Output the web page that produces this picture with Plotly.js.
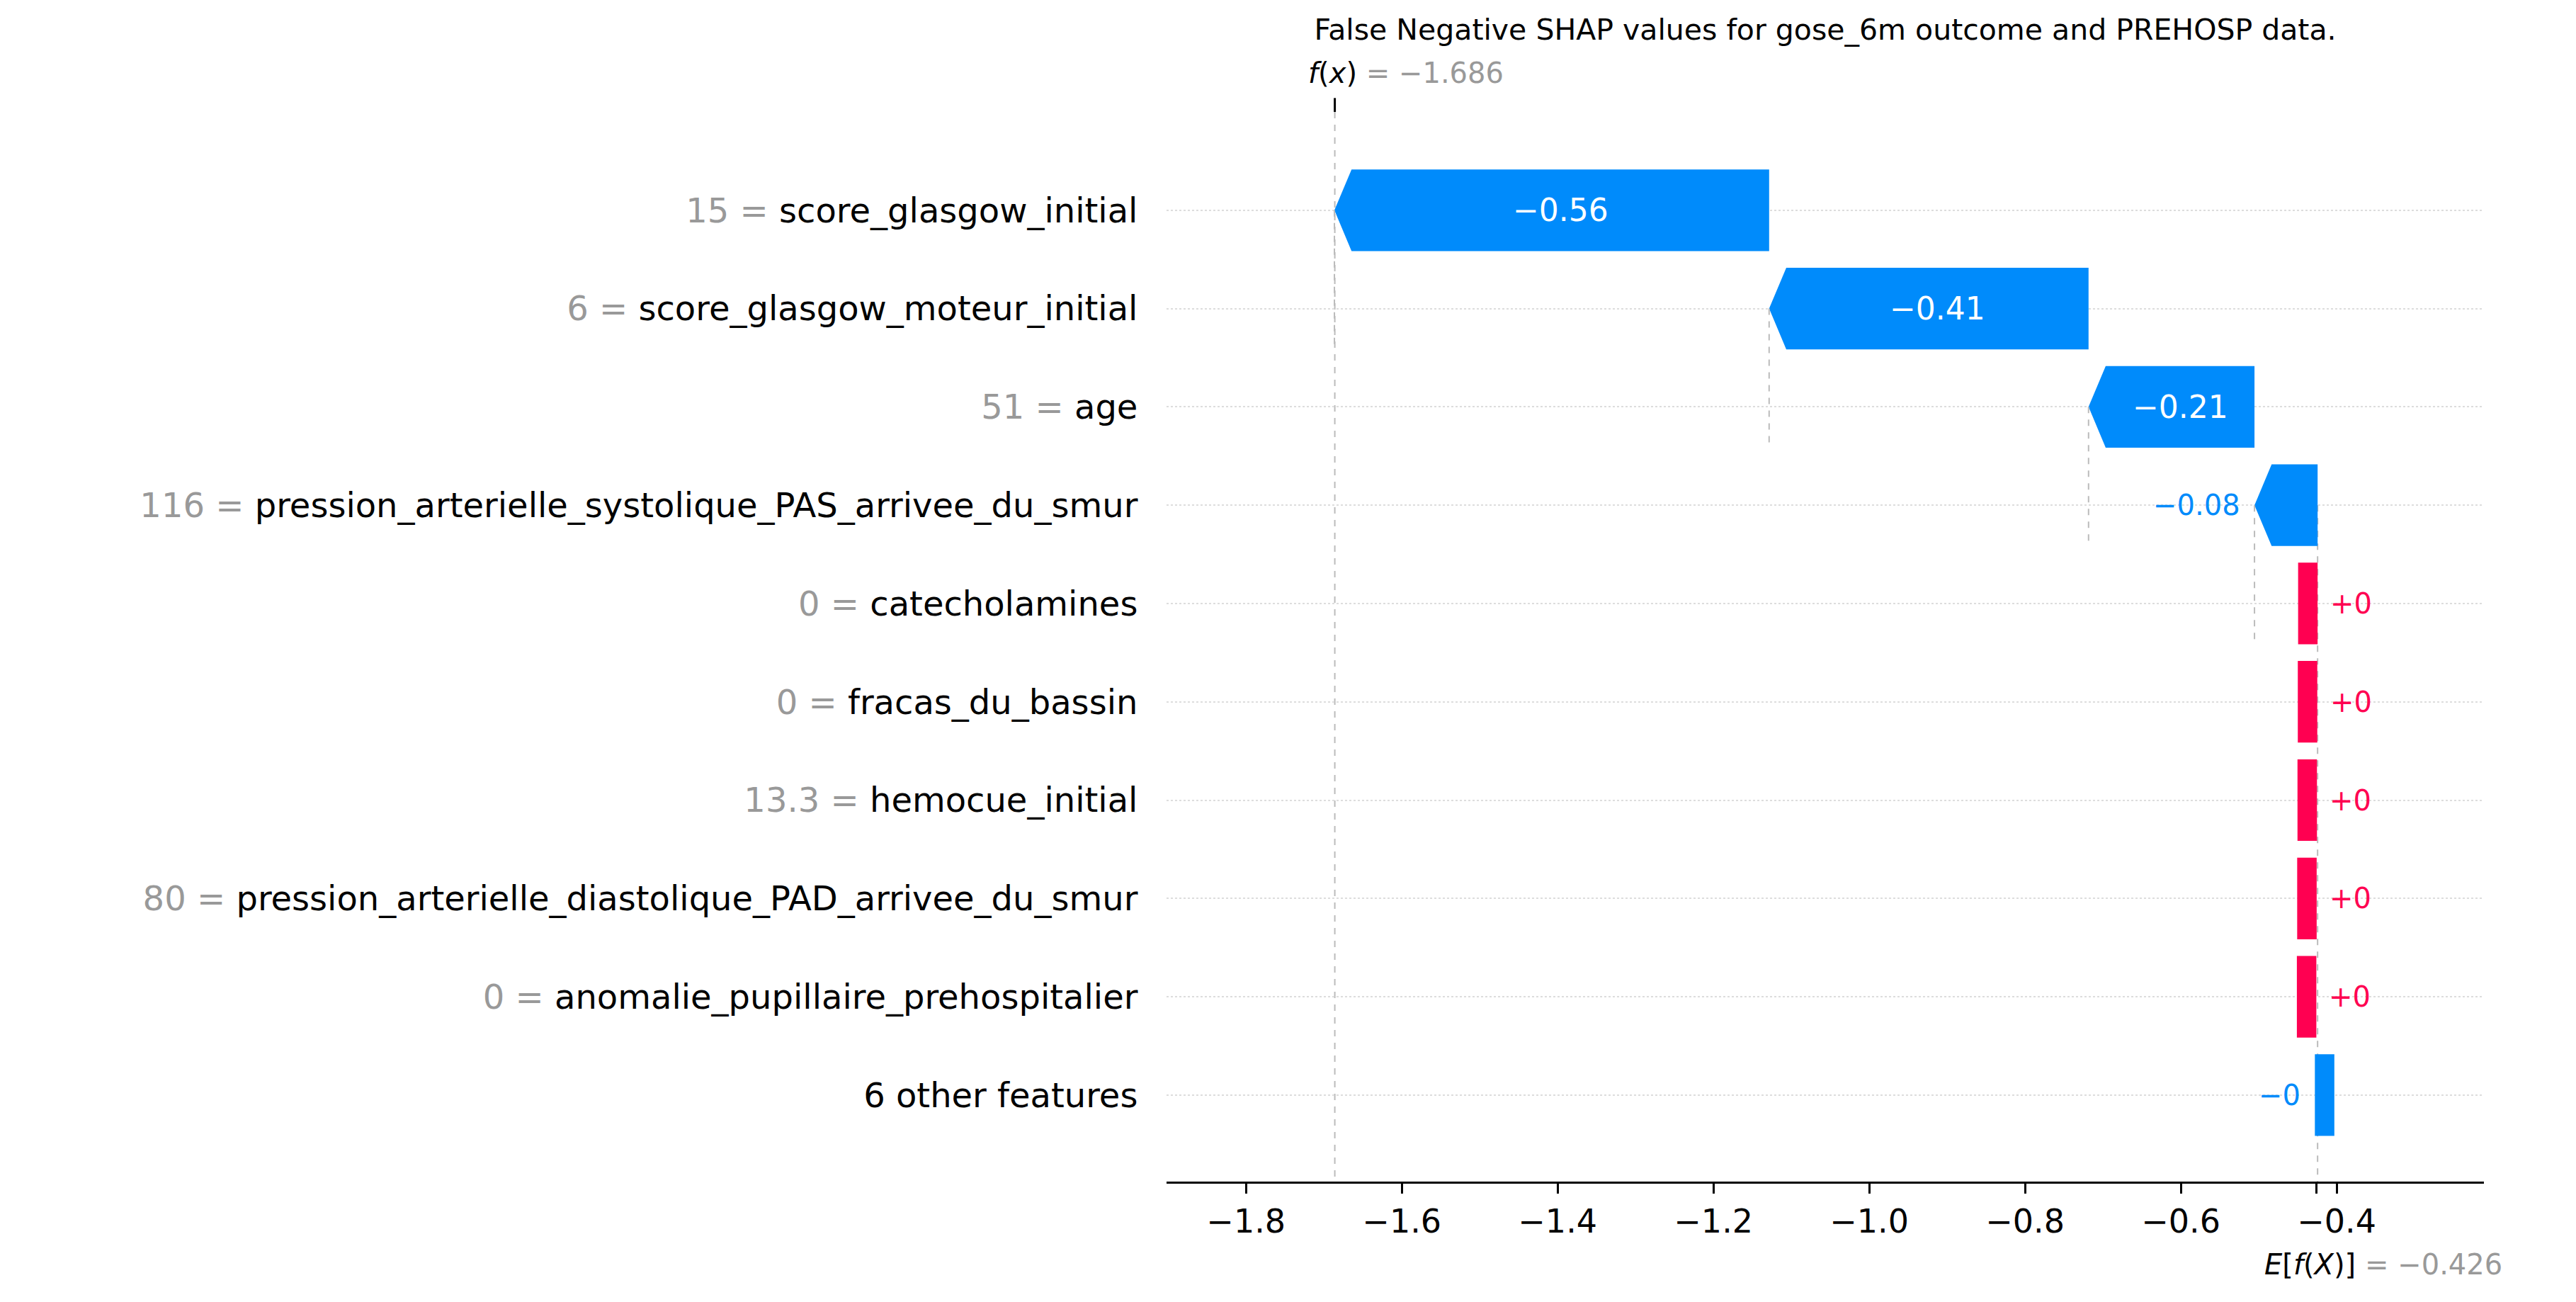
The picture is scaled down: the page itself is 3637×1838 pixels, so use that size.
<!DOCTYPE html>
<html>
<head>
<meta charset="utf-8">
<script src="https://cdn.plot.ly/plotly-3.0.1.min.js"></script>
<style>
  html, body { margin: 0; padding: 0; background: #fff; }
  #chart { width: 3637px; height: 1838px; }
</style>
</head>
<body>
<div id="chart"></div>
<script>
/* SHAP waterfall, False Negative case, rows top to bottom */
var FEATURE_VALUES = ["15", "6", "51", "116", "0", "0", "13.3", "80", "0", ""];
var FEATURE_NAMES = ["score_glasgow_initial", "score_glasgow_moteur_initial", "age",
  "pression_arterielle_systolique_PAS_arrivee_du_smur", "catecholamines", "fracas_du_bassin",
  "hemocue_initial", "pression_arterielle_diastolique_PAD_arrivee_du_smur",
  "anomalie_pupillaire_prehospitalier", "6 other features"];
var SHAP_VALUES = [-0.558, -0.41, -0.213, -0.081, 0.0004, 0.0004, 0.0004, 0.0004, 0.0004, -0.0005];
var VALUE_LABELS = ["\u22120.56", "\u22120.41", "\u22120.21", "\u22120.08", "+0", "+0", "+0", "+0", "+0", "\u22120"];
var BASE_VALUE = -0.426;
var FX_VALUE = -1.686;
var X_TICKS = [-1.8, -1.6, -1.4, -1.2, -1.0, -0.8, -0.6, -0.4];

var BLUE = "#008bfb", RED = "#ff0051", GREY = "#999999";
var FONT = "DejaVu Sans, sans-serif";
var HH = 0.415;      // half bar height, in rows
var HEAD = 0.022;    // arrow head length, in x units
var MINW = 0.025;    // smallest drawn bar width

var n = FEATURE_NAMES.length;
// cumulative from the bottom row (base value) upward
var starts = new Array(n), ends = new Array(n);
var acc = BASE_VALUE;
for (var i = n - 1; i >= 0; i--) {
  starts[i] = acc;
  acc += SHAP_VALUES[i];
  ends[i] = acc;
}

var traces = [], annotations = [], shapes = [];
for (var i = 0; i < n; i++) {
  var s = starts[i], e = ends[i], v = SHAP_VALUES[i];
  var col = v < 0 ? BLUE : RED;
  var xs, ys, lo, hi;
  if (Math.abs(v) < MINW) {
    if (v > 0) { lo = e - MINW; hi = e; } else { lo = s - 0.002; hi = s - 0.002 + MINW; }
    xs = [lo, hi, hi, lo, lo];
    ys = [i - HH, i - HH, i + HH, i + HH, i - HH];
  } else {
    var h = Math.min(HEAD, Math.abs(v));
    xs = [s, e + h, e, e + h, s, s];
    ys = [i - HH, i - HH, i, i + HH, i + HH, i - HH];
    lo = e; hi = s;
  }
  traces.push({ type: "scatter", mode: "lines", x: xs, y: ys, fill: "toself",
    fillcolor: col, line: { width: 0, color: col }, hoverinfo: "skip", showlegend: false });

  var big = Math.abs(v) > 0.15;
  if (big) {
    annotations.push({ x: (s + e) / 2 + HEAD / 2, y: i, xref: "x", yref: "y", text: VALUE_LABELS[i],
      showarrow: false, font: { family: FONT, size: 44, color: "#fff" } });
  } else if (v < 0) {
    annotations.push({ x: lo, y: i, xref: "x", yref: "y", text: VALUE_LABELS[i], xanchor: "right",
      xshift: -18, showarrow: false, font: { family: FONT, size: 40, color: BLUE } });
  } else {
    annotations.push({ x: hi, y: i, xref: "x", yref: "y", text: VALUE_LABELS[i], xanchor: "left",
      xshift: 16, showarrow: false, font: { family: FONT, size: 40, color: RED } });
  }

  // dashed connector down to the next row
  var yEnd = i < n - 1 ? i + 1 + HH : 9.88;
  if (i < 4) {
    shapes.push({ type: "line", xref: "x", yref: "y", x0: e, x1: e, y0: i, y1: yEnd,
      line: { color: "#bbbbbb", width: 2, dash: "dash" } });
  }
}
// base value and f(x) guides
shapes.push({ type: "line", xref: "x", yref: "y", x0: ends[4], x1: ends[4], y0: 3, y1: 9.88,
  line: { color: "#bbbbbb", width: 2, dash: "dash" }, layer: "below" });
shapes.push({ type: "line", xref: "x", yref: "y", x0: FX_VALUE, x1: FX_VALUE, y0: -1.0, y1: 9.88,
  line: { color: "#bbbbbb", width: 2, dash: "dash" }, layer: "below" });
shapes.push({ type: "line", xref: "x", yref: "paper", x0: FX_VALUE, x1: FX_VALUE, y0: 1, y1: 1.013,
  line: { color: "#000", width: 3 } });

annotations.push({ x: FX_VALUE, y: 1.02, xref: "x", yref: "paper", xanchor: "left", yanchor: "bottom",
  xshift: -40, showarrow: false, font: { family: FONT, size: 40, color: GREY },
  text: "<span style='color:#000'><i>f</i>(<i>x</i>)</span> = \u22121.686" });
annotations.push({ x: BASE_VALUE, y: 0, xref: "x", yref: "paper", xanchor: "left", yanchor: "top",
  xshift: -76, yshift: -92, showarrow: false, font: { family: FONT, size: 40, color: GREY },
  text: "<span style='color:#000'><i>E</i>[<i>f</i>(<i>X</i>)]</span> = \u22120.426" });

var tickText = FEATURE_NAMES.map(function (name, i) {
  return FEATURE_VALUES[i] === "" ? name :
    "<span style='color:" + GREY + "'>" + FEATURE_VALUES[i] + " = </span>" + name;
});

var layout = {
  width: 3637, height: 1838,
  paper_bgcolor: "#fff", plot_bgcolor: "#fff",
  margin: { l: 1647, r: 130, t: 158, b: 170 },
  font: { family: FONT, size: 46, color: "#000" },
  title: { text: "False Negative SHAP values for gose_6m outcome and PREHOSP data.",
    x: 0.5, xref: "paper", y: 0.985, yanchor: "top",
    font: { family: FONT, size: 41, color: "#000" } },
  xaxis: { range: [-1.902, -0.211], tickvals: X_TICKS.concat([BASE_VALUE]),
    ticktext: X_TICKS.map(function (t) { return t.toFixed(1).replace("-", "\u2212"); }).concat([""]),
    showgrid: false, zeroline: false, showline: true, linecolor: "#000", linewidth: 3,
    ticks: "outside", ticklen: 14, tickwidth: 3, tickcolor: "#000",
    tickfont: { family: FONT, size: 46, color: "#000" } },
  yaxis: { range: [9.88, -1.0], tickvals: FEATURE_NAMES.map(function (_, i) { return i; }),
    ticktext: tickText, showgrid: true, gridcolor: "#dddddd", griddash: "dot", gridwidth: 2,
    zeroline: false, showline: false, ticks: "outside", ticklen: 30, tickcolor: "rgba(0,0,0,0)",
    tickfont: { family: FONT, size: 48, color: "#000" } },
  shapes: shapes,
  annotations: annotations,
  showlegend: false
};

Plotly.newPlot("chart", traces, layout, { displayModeBar: false, staticPlot: true });
</script>
</body>
</html>
